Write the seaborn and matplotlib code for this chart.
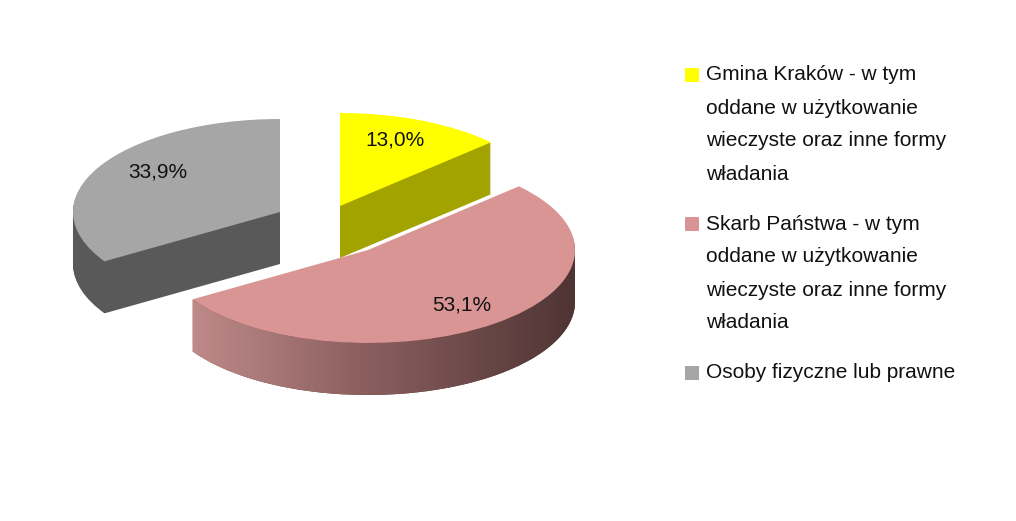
import numpy as np
import matplotlib
matplotlib.use("Agg")
import matplotlib.pyplot as plt
import seaborn as sns
from matplotlib.patches import Wedge, Polygon, Rectangle
from matplotlib.colors import LinearSegmentedColormap
from matplotlib.transforms import Affine2D

sns.set_style("white")
plt.rcParams['font.family'] = ['Liberation Sans', 'DejaVu Sans']

labels = [["Gmina Kraków - w tym", "oddane w użytkowanie", "wieczyste oraz inne formy", "władania"],
          ["Skarb Państwa - w tym", "oddane w użytkowanie", "wieczyste oraz inne formy", "władania"],
          ["Osoby fizyczne lub prawne"]]
shares = [13.0, 53.1, 33.9]
top_colors = ["#FFFF00", "#D99594", "#A6A6A6"]
side_colors = ["#A3A300", "#6E4747", "#595959"]
# slice centres in image pixels (exploded)
centres = [(340, 206), (368, 250), (280, 212)]
label_pos = [(395, 140), (462, 305), (158, 172)]

W, H = 1016, 521
fig = plt.figure(figsize=(W / 100, H / 100), dpi=100)
ax = fig.add_axes([0, 0, 1, 1])
ax.set_xlim(0, W)
ax.set_ylim(0, H)
ax.axis("off")

rx, ry, depth = 207, 93, 52
angles = [90]
for s in shares:
    angles.append(angles[-1] - s * 3.6)

def draw_slice(i, gradient=False):
    cx, cy = centres[i]
    t1, t2 = angles[i + 1], angles[i]
    for d in range(depth, 0, -1):
        tr = Affine2D().scale(rx, ry).translate(cx, H - cy - d) + ax.transData
        ax.add_patch(Wedge((0, 0), 1, t1, t2, facecolor=side_colors[i],
                           edgecolor="none", transform=tr))
    if gradient:
        th = np.radians(np.linspace(max(t1, -180), min(t2, 0), 100))
        top = np.c_[cx + rx * np.cos(th), H - cy + ry * np.sin(th)]
        bot = top[::-1] - [0, depth]
        poly = Polygon(np.vstack([top, bot]), closed=True, facecolor="none",
                       edgecolor="none")
        ax.add_patch(poly)
        cmap = LinearSegmentedColormap.from_list("side", ["#C89291", "#8A5E5E", "#4F3434"])
        grad = np.linspace(0, 1, 256)[None, :]
        im = ax.imshow(grad, cmap=cmap, aspect="auto",
                       extent=[cx - rx, cx + rx, H - cy - ry - depth, H - cy],
                       zorder=1)
        im.set_clip_path(poly)
    tr = Affine2D().scale(rx, ry).translate(cx, H - cy) + ax.transData
    ax.add_patch(Wedge((0, 0), 1, t1, t2, facecolor=top_colors[i],
                       edgecolor="none", transform=tr, zorder=2))

for i in [2, 0]:
    draw_slice(i)
draw_slice(1, gradient=True)
ax.set_xlim(0, W)
ax.set_ylim(0, H)

for s, (x, y) in zip(shares, label_pos):
    ax.text(x, H - y, f"{s:.1f}%".replace(".", ","), fontsize=15,
            ha="center", va="center", color="#111111", zorder=3)

# legend drawn by hand so the marker sits on the first line
y = 75
for lines, c in zip(labels, top_colors):
    ax.add_patch(Rectangle((685, H - y - 7), 14, 14, facecolor=c, edgecolor="none"))
    for line in lines:
        ax.text(706, H - y, line, fontsize=15, va="center", ha="left", color="#111111")
        y += 33
    y += 17

fig.savefig("out.png", dpi=100)
